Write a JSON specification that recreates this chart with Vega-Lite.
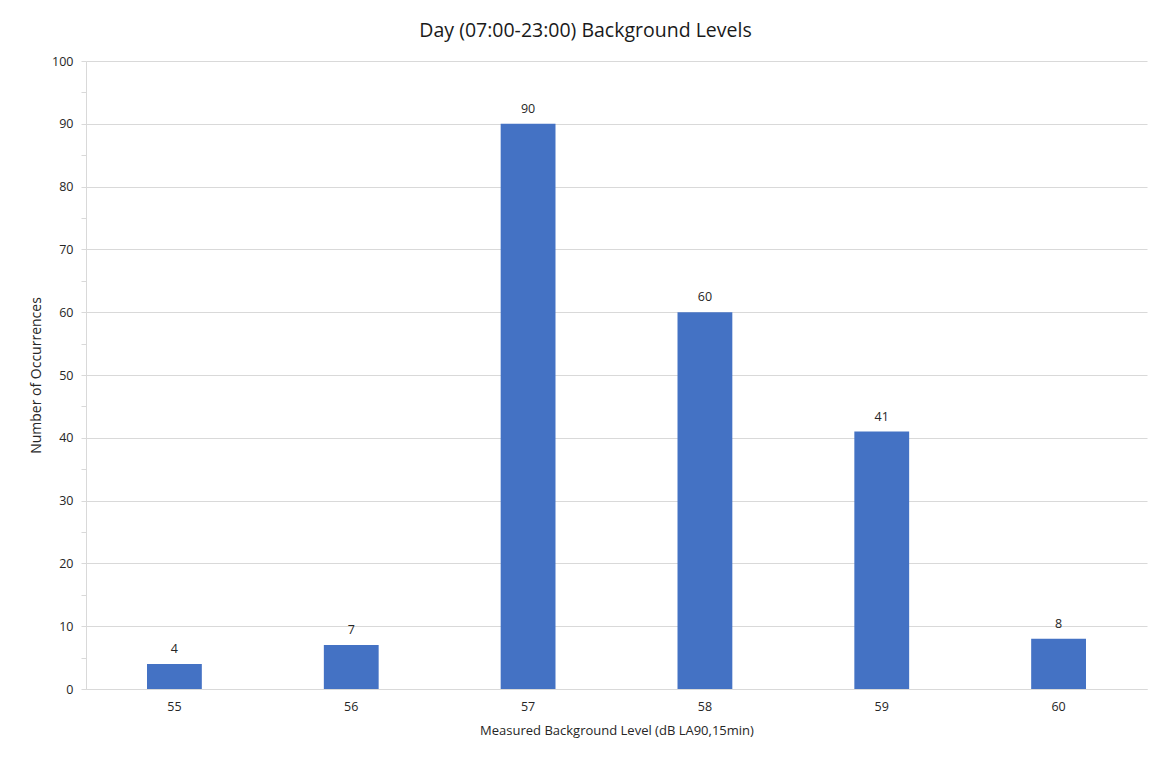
{
  "$schema": "https://vega.github.io/schema/vega-lite/v6.json",
  "width": 1061,
  "height": 628,
  "autosize": {"type": "none"},
  "padding": {"left": 86, "top": 61, "right": 11, "bottom": 71},
  "background": "white",
  "title": {
    "text": "Day (07:00-23:00) Background Levels",
    "fontSize": 19.5,
    "fontWeight": "normal",
    "color": "#1a1a1a",
    "font": "Open Sans",
    "anchor": "middle",
    "offset": 14,
    "dx": -31
  },
  "data": {
    "values": [
      {"level": "55", "count": 4},
      {"level": "56", "count": 7},
      {"level": "57", "count": 90},
      {"level": "58", "count": 60},
      {"level": "59", "count": 41},
      {"level": "60", "count": 8}
    ]
  },
  "encoding": {
    "x": {
      "field": "level",
      "type": "nominal",
      "sort": null,
      "scale": {"paddingInner": 0.69, "paddingOuter": 0.345},
      "axis": {
        "title": "Measured Background Level  (dB LA90,15min)",
        "labelAngle": 0,
        "ticks": false,
        "domainColor": "#d9d9d9",
        "labelPadding": 11,
        "titlePadding": 12
      }
    },
    "y": {
      "field": "count",
      "type": "quantitative",
      "scale": {"domain": [0, 100], "nice": false},
      "axis": {
        "title": "Number  of Occurrences",
        "titleFontSize": 14,
        "values": [0, 5, 10, 15, 20, 25, 30, 35, 40, 45, 50, 55, 60, 65, 70, 75, 80, 85, 90, 95, 100],
        "labelExpr": "datum.value % 10 === 0 ? datum.label : ''",
        "gridOpacity": {"condition": {"test": "datum.value % 10 === 0", "value": 1}, "value": 0},
        "tickSize": 5,
        "labelPadding": 8,
        "titlePadding": 8,
        "domainColor": "#d9d9d9",
        "tickColor": "#d9d9d9"
      }
    }
  },
  "layer": [
    {"mark": {"type": "bar", "color": "#4472C4"}},
    {
      "mark": {"type": "text", "baseline": "bottom", "dy": -8, "fontSize": 12.5, "font": "Open Sans", "color": "#262626"},
      "encoding": {"text": {"field": "count", "type": "quantitative"}}
    }
  ],
  "config": {
    "view": {"stroke": null},
    "axis": {
      "labelFont": "Open Sans",
      "labelFontSize": 12.5,
      "labelColor": "#262626",
      "titleFont": "Open Sans",
      "titleFontSize": 13,
      "titleFontWeight": "normal",
      "titleColor": "#262626",
      "gridColor": "#d9d9d9"
    }
  }
}
